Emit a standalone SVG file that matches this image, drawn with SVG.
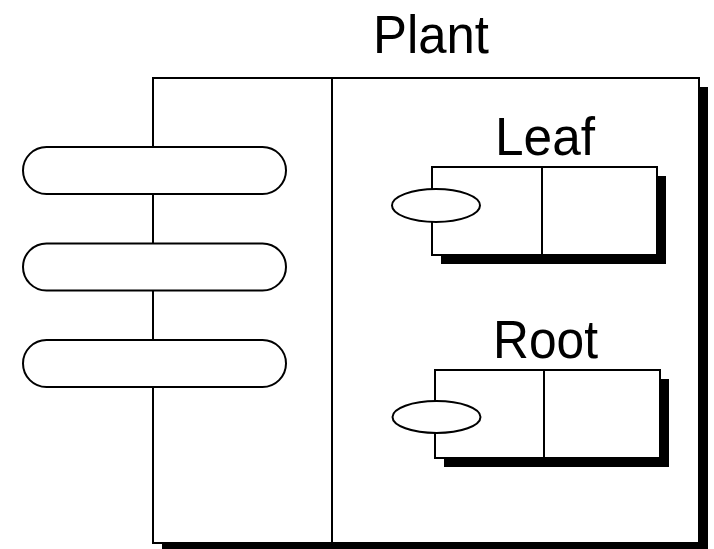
<svg xmlns="http://www.w3.org/2000/svg" width="714" height="549" viewBox="0 0 714 549">
<style>
.box{fill:#fff;stroke:#000;stroke-width:2}
.shadow{fill:#000}
.ln{stroke:#000;stroke-width:2;fill:none}
.port{fill:#fff;stroke:#000;stroke-width:2}
.lbl{font-family:"Liberation Sans",Arial,Helvetica,sans-serif;font-size:53px;fill:#000}
</style>
<rect width="714" height="549" fill="#fff"/>
<g id="plant">
<rect class="shadow" x="162" y="87" width="546" height="470"/>
<rect class="box" x="153" y="78" width="546" height="465"/>
<line class="ln" x1="332" y1="78" x2="332" y2="543"/>
<text class="lbl" x="373" y="53" textLength="116" lengthAdjust="spacingAndGlyphs">Plant</text>
</g>
<g id="plant-ports">
<rect class="port" x="23" y="147" width="263" height="47" rx="23.5" ry="23.5"/>
<rect class="port" x="23" y="243.5" width="263" height="47" rx="23.5" ry="23.5"/>
<rect class="port" x="23" y="340" width="263" height="47" rx="23.5" ry="23.5"/>
</g>
<g id="leaf">
<rect class="shadow" x="441" y="176" width="225" height="88"/>
<rect class="box" x="432" y="167" width="225" height="88"/>
<line class="ln" x1="542" y1="167" x2="542" y2="255"/>
<ellipse class="port" cx="436" cy="205.5" rx="44" ry="16.5"/>
<text class="lbl" x="495" y="155" textLength="100" lengthAdjust="spacingAndGlyphs">Leaf</text>
</g>
<g id="root">
<rect class="shadow" x="444" y="379" width="225" height="88"/>
<rect class="box" x="435" y="370" width="225" height="88"/>
<line class="ln" x1="544" y1="370" x2="544" y2="458"/>
<ellipse class="port" cx="436.5" cy="417" rx="44" ry="16"/>
<text class="lbl" x="493" y="358" textLength="105" lengthAdjust="spacingAndGlyphs">Root</text>
</g>
<g id="connectors"/>
</svg>
